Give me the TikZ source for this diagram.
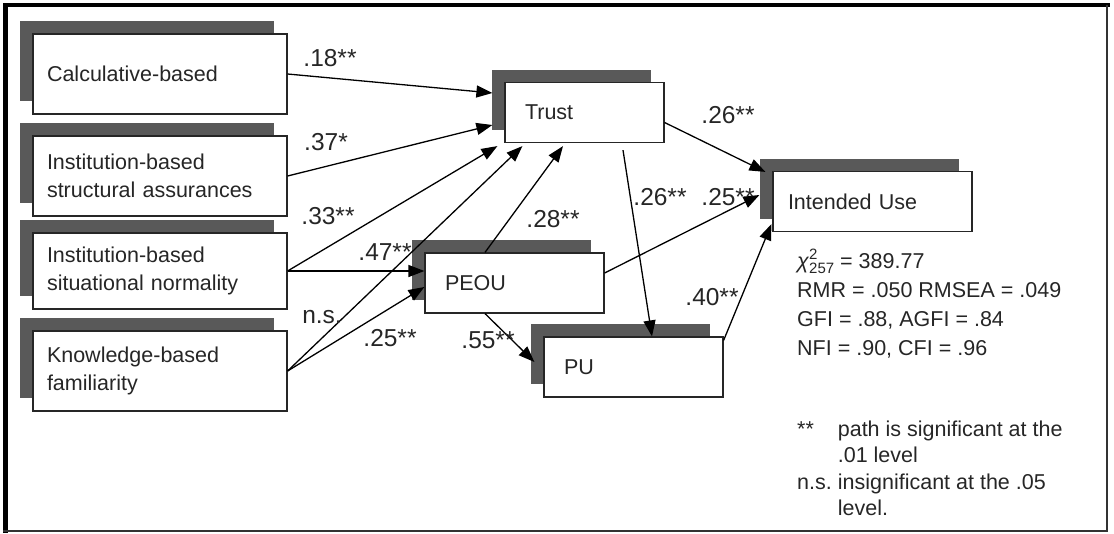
\documentclass[tikz,border=0pt]{standalone}
\usepackage{fontspec}
\setmainfont{Liberation Sans}
\usetikzlibrary{arrows.meta,calc,shadows}

\newcommand{\smallfit}[1]{{\fontsize{15}{15}\selectfont #1}}

\begin{document}
\begin{tikzpicture}
                    [
                        x=1pt, y=-1pt,
                        every node/.style={font=\fontsize{21.5}{28}\selectfont, text=black!85},
                        rectanglenode_factor/.style={rectangle, draw=black!85, fill=white, line width=1.2pt, minimum height=80pt, text width=226pt, inner xsep=14pt, align=left, drop shadow={shadow xshift=-13.5pt, shadow yshift=13pt, fill=black!65, opacity=1}},
                        rectanglenode_construct/.style={rectangle, draw=black!85, fill=white, line width=1.2pt, minimum height=60pt, inner xsep=20pt, align=left, drop shadow={shadow xshift=-13.5pt, shadow yshift=13pt, fill=black!65, opacity=1}},
                        pathlabel/.style={inner sep=0pt, font=\fontsize{24.5}{28}\selectfont},
                        patharrow/.style={draw=black, line width=1.3pt, -{Triangle[length=16pt,width=12pt]}},
                    ]

                    \useasboundingbox (0,0) rectangle (1114,533);

                    % outer frame
                    \draw[line width=5pt] (5.5,533) -- (5.5,3);
                    \draw[line width=4.5pt] (3,5) -- (1110,5);
                    \draw[line width=2pt, black!80] (1107,5) -- (1107,531) -- (3,531);

                    \node[rectanglenode_factor] (calcbased) at (160,74) {Calculative-based};
                    \node[rectanglenode_factor] (structural) at (160,176) {Institution-based\\structural assurances};
                    \node[rectanglenode_factor, minimum height=76pt] (situational) at (160,271) {Institution-based\\situational normality};
                    \node[rectanglenode_factor] (knowledge) at (160,371) {Knowledge-based\\familiarity};

                    \node[rectanglenode_construct, text width=119pt] (trust) at (584.5,112.5) {Trust};
                    \node[rectanglenode_construct, text width=139pt] (peou) at (514.5,283) {PEOU};
                    \node[rectanglenode_construct, text width=139pt] (pu) at (633.5,367) {PU};
                    \node[rectanglenode_construct, text width=169pt, inner xsep=15pt] (intenduse) at (872.5,201.5) {Intended Use};

                    \draw[patharrow] (calcbased.east) -- ($(trust.west)+(-12,-19.5)$);
                    \draw[patharrow] (structural.east) -- ($(trust.west)+(-12,12.5)$);
                    \draw[patharrow] (situational.east) -- ($(trust.south west)+(-7,3)$);
                    \draw[patharrow] (situational.east) -- (situational.east -| peou.west);
                    \draw[patharrow] (knowledge.east) -- ($(trust.south west)+(18,3)$);
                    \draw[patharrow] (knowledge.east) -- ($(peou.west)+(0,4)$);
                    \draw[patharrow] ($(peou.north)+(-29.5,0)$) -- ($(trust.south)+(-21.5,3)$);
                    \draw[patharrow] ($(trust.south)+(38.5,7)$) -- ($(pu.north)+(18.5,0)$);
                    \draw[patharrow] ($(trust.east)+(0,10)$) -- ($(intenduse.north west)+(-7,1)$);
                    \draw[patharrow] ($(peou.east)+(0,-10)$) -- ($(intenduse.west)+(-13,-6.5)$);
                    \draw[patharrow] ($(pu.north east)+(0,4)$) -- ($(intenduse.south west)+(-1,-8)$);
                    \draw[patharrow] ($(peou.south)+(-29.5,0)$) -- ($(pu.west)+(-9,-5)$);

                    \node[pathlabel] (lab_calc) at (330,58) {.18**};
                    \node[pathlabel] (lab_struct) at (326,142) {.37*};
                    \node[pathlabel] (lab_sittrust) at (328,216) {.33**};
                    \node[pathlabel] (lab_sitpeou) at (385,252) {.47**};
                    \node[pathlabel] (lab_knowtrust) at (322,317) {n.s.};
                    \node[pathlabel] (lab_knowpeou) at (390,338) {.25**};
                    \node[pathlabel] (lab_peoutrust) at (553,219) {.28**};
                    \node[pathlabel] (lab_peoupu) at (488,340) {.55**};
                    \node[pathlabel] (lab_trustpu) at (660,197) {.26**};
                    \node[pathlabel] (lab_peouuse) at (728,197) {.25**};
                    \node[pathlabel] (lab_trustuse) at (728,115) {.26**};
                    \node[pathlabel] (lab_puuse) at (712,297) {.40**};

                    \node[anchor=north west, inner sep=0pt, font=\fontsize{21.5}{29}\selectfont] (fitstats) at (797,248) {\begin{tabular}{@{}l@{}}\textit{χ}\rlap{\raisebox{9pt}{\smallfit{2}}}\raisebox{-5pt}{\smallfit{257}} = 389.77\\RMR = .050 RMSEA = .049\\GFI = .88, AGFI = .84\\NFI = .90, CFI = .96\end{tabular}};
                    \node[anchor=north west, inner sep=0pt, font=\fontsize{21.5}{26.5}\selectfont] (legend) at (797,417.5) {\begin{tabular}{@{}l@{\hspace{6pt}}l@{}}** & path is significant at the\\ & .01 level\\n.s. & insignificant at the .05\\ & level.\end{tabular}};

                \end{tikzpicture}
\end{document}
